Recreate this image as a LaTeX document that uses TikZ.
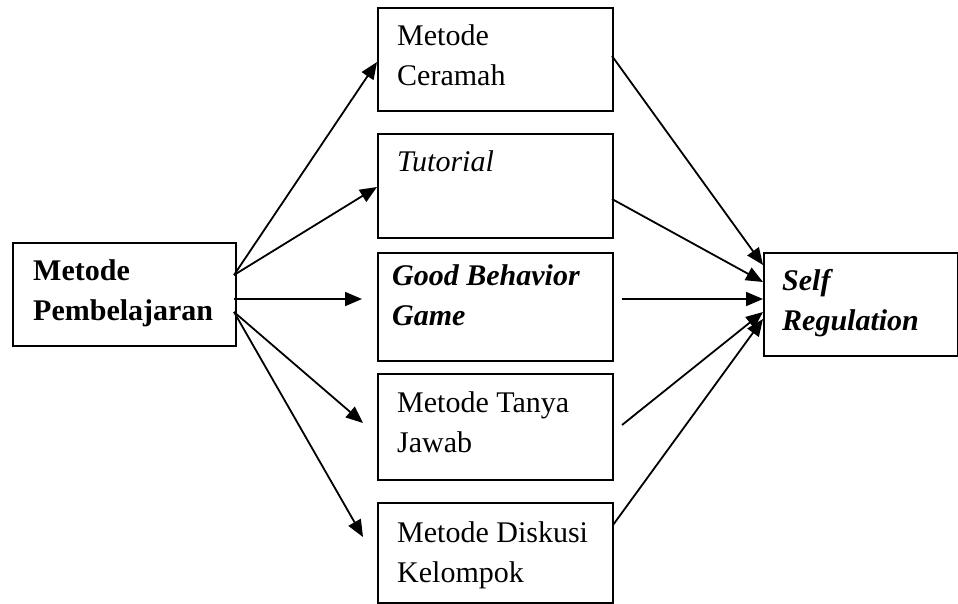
\documentclass[tikz,border=0pt]{standalone}
\usepackage{fontspec}
\setmainfont{Liberation Serif}
\usetikzlibrary{arrows.meta}
\begin{document}
\begin{tikzpicture}[x=1pt,y=-1pt,
  box/.style={draw, line width=1.8pt, anchor=north west, inner sep=0pt},
  lbl/.style={anchor=base west, inner sep=0pt, font=\fontsize{30}{40}\selectfont},
  arr/.style={line width=1.8pt, -{Triangle[length=17pt,width=14pt]}}]
\useasboundingbox (0,0) rectangle (958,603);
% boxes
\node[box, minimum width=223pt, minimum height=103pt] (L) at (12,242) {};
\node[box, minimum width=235pt, minimum height=103pt] (B1) at (377,7) {};
\node[box, minimum width=235pt, minimum height=104pt] (B2) at (377,133) {};
\node[box, minimum width=235pt, minimum height=108pt] (B3) at (377,252) {};
\node[box, minimum width=235pt, minimum height=106pt] (B4) at (377,373) {};
\node[box, minimum width=235pt, minimum height=100pt] (B5) at (377,502) {};
\node[box, minimum width=194pt, minimum height=103pt] (R) at (763,252) {};
% texts
\node[lbl] (Lt) at (33,280) {\bfseries\begin{tabular}[t]{@{}l@{}}Metode\\Pembelajaran\end{tabular}};
\node[lbl] (B1t) at (397,45) {\begin{tabular}[t]{@{}l@{}}Metode\\Ceramah\end{tabular}};
\node[lbl] (B2t) at (397,171) {\itshape Tutorial};
\node[lbl] (B3t) at (392,285) {\bfseries\itshape\begin{tabular}[t]{@{}l@{}}Good Behavior\\Game\end{tabular}};
\node[lbl] (B4t) at (397,412) {\begin{tabular}[t]{@{}l@{}}Metode Tanya\\Jawab\end{tabular}};
\node[lbl] (B5t) at (397,542) {\begin{tabular}[t]{@{}l@{}}Metode Diskusi\\Kelompok\end{tabular}};
\node[lbl] (Rt) at (782,290) {\bfseries\itshape\begin{tabular}[t]{@{}l@{}}Self\\Regulation\end{tabular}};
% connector points
\coordinate (s1) at (234,275);
\coordinate (s2) at (234,299);
\coordinate (s3) at (234,312);
\coordinate (t1) at (377,62);
\coordinate (t2) at (377,187);
\coordinate (t3) at (362,299);
\coordinate (t4) at (363,423);
\coordinate (t5) at (363,537);
\coordinate (r1) at (612,56);
\coordinate (r2) at (612,199);
\coordinate (r3) at (622,299);
\coordinate (r4) at (622,425);
\coordinate (r5) at (613,525);
\coordinate (e1) at (763,265);
\coordinate (e2) at (763,282);
\coordinate (e3) at (763,299);
\coordinate (e4) at (763,312);
\coordinate (e5) at (763,319);
% arrows
\draw[arr] (s1) -- (t1);
\draw[arr] (s1) -- (t2);
\draw[arr] (s2) -- (t3);
\draw[arr] (s3) -- (t4);
\draw[arr] (s3) -- (t5);
\draw[arr] (r1) -- (e1);
\draw[arr] (r2) -- (e2);
\draw[arr] (r3) -- (e3);
\draw[arr] (r4) -- (e4);
\draw[arr] (r5) -- (e5);
\end{tikzpicture}
\end{document}
